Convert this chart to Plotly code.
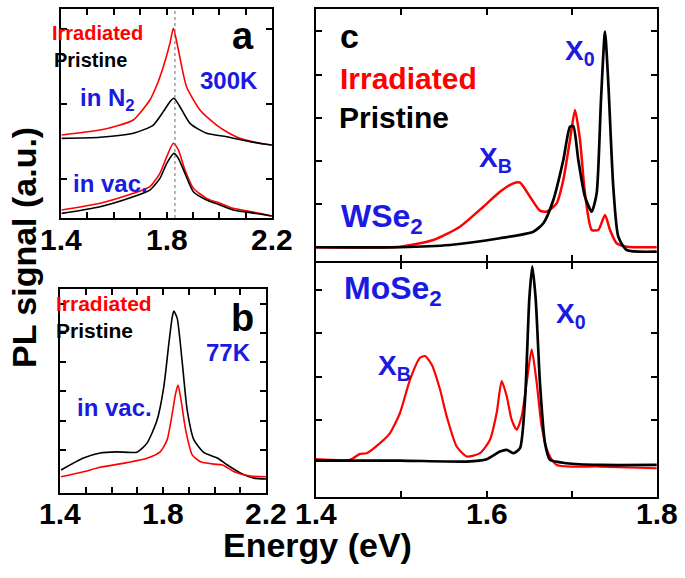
import plotly.graph_objects as go

W, H = 685, 578

# ---------------- data ----------------
# Panel a (300K): energy (eV) and PL signal (a.u., offset)
a_n2_red_x = [1.4025, 1.548, 1.611, 1.674, 1.737, 1.763, 1.788, 1.813, 1.826, 1.845, 1.876, 1.927, 1.990, 2.028, 2.079, 2.154, 2.199]
a_n2_red_y = [0.587, 0.653, 0.707, 0.787, 1.053, 1.25, 1.498, 1.809, 2.009, 1.72, 1.231, 0.92, 0.72, 0.631, 0.542, 0.476, 0.453]
a_n2_blk_x = [1.4025, 1.548, 1.674, 1.75, 1.788, 1.813, 1.828, 1.851, 1.889, 1.952, 2.028, 2.117, 2.199]
a_n2_blk_y = [0.542, 0.556, 0.609, 0.72, 0.898, 1.031, 1.076, 0.964, 0.742, 0.609, 0.564, 0.498, 0.453]
a_vac_red_x = [1.4025, 1.548, 1.674, 1.737, 1.775, 1.801, 1.826, 1.845, 1.870, 1.902, 1.952, 2.003, 2.053, 2.154, 2.199]
a_vac_red_y = [-0.413, -0.324, -0.191, -0.102, 0.076, 0.298, 0.476, 0.387, 0.12, -0.124, -0.258, -0.324, -0.391, -0.458, -0.493]
a_vac_blk_x = [1.4025, 1.548, 1.674, 1.737, 1.775, 1.801, 1.828, 1.845, 1.870, 1.902, 1.952, 2.003, 2.053, 2.154, 2.199]
a_vac_blk_y = [-0.458, -0.369, -0.236, -0.147, 0.009, 0.209, 0.342, 0.276, 0.076, -0.169, -0.28, -0.347, -0.413, -0.467, -0.493]
a_peak_energy = 1.832

# Panel b (77K, in vac.)
b_blk_x = [1.404, 1.491, 1.556, 1.621, 1.699, 1.738, 1.777, 1.803, 1.823, 1.836, 1.842, 1.855, 1.875, 1.894, 1.920, 1.959, 2.011, 2.050, 2.102, 2.154, 2.2]
b_blk_y = [0.31, 0.72, 0.89, 0.93, 0.92, 1.23, 2.02, 3.15, 4.66, 5.55, 5.75, 5.51, 3.97, 2.36, 1.34, 0.9, 0.72, 0.48, 0.2, 0.03, 0.0]
b_red_x = [1.404, 1.491, 1.556, 1.660, 1.738, 1.790, 1.816, 1.836, 1.849, 1.858, 1.868, 1.888, 1.914, 1.946, 1.998, 2.031, 2.076, 2.141, 2.2]
b_red_y = [0.08, 0.25, 0.40, 0.56, 0.71, 0.94, 1.34, 2.25, 2.93, 3.22, 2.82, 1.68, 0.82, 0.59, 0.51, 0.48, 0.25, 0.10, 0.08]

# Panel c, WSe2
w_blk_x = [1.4, 1.4985, 1.5572, 1.6158, 1.6549, 1.6667, 1.6784, 1.6901, 1.6979, 1.7018, 1.7077, 1.7155, 1.7234, 1.7292, 1.7343, 1.7390, 1.7429, 1.7487, 1.7546, 1.7644, 1.7997]
w_blk_y = [0.005, 0.005, 0.058, 0.213, 0.366, 0.56, 1.1, 2.025, 2.796, 2.81, 2.025, 1.176, 0.829, 1.25, 3.414, 4.995, 3.8, 1.407, 0.25, -0.058, -0.096]
w_red_x = [1.4, 1.4985, 1.5376, 1.5689, 1.5963, 1.6158, 1.6315, 1.6393, 1.6510, 1.6627, 1.6706, 1.6823, 1.6901, 1.6979, 1.7038, 1.7097, 1.7155, 1.7234, 1.7312, 1.7390, 1.7449, 1.7527, 1.7644, 1.7997]
w_red_y = [0.005, 0.019, 0.174, 0.481, 0.944, 1.292, 1.485, 1.5, 1.176, 0.852, 0.829, 1.022, 1.562, 2.488, 3.183, 2.488, 1.25, 0.405, 0.405, 0.752, 0.405, 0.097, 0.019, 0.005]

# Panel c, MoSe2
m_blk_x = [1.4, 1.4985, 1.5768, 1.6002, 1.6158, 1.6237, 1.6315, 1.6393, 1.6452, 1.6502, 1.6537, 1.6577, 1.6627, 1.6686, 1.6745, 1.6940, 1.7331, 1.7997]
m_blk_y = [0.054, 0.054, 0.031, 0.085, 0.264, 0.302, 0.225, 0.341, 1.465, 3.791, 4.55, 3.791, 1.853, 0.457, 0.07, -0.008, -0.047, -0.047]
m_red_x = [1.4, 1.4399, 1.4516, 1.4594, 1.4751, 1.4868, 1.4985, 1.5103, 1.5220, 1.5279, 1.5357, 1.5455, 1.5533, 1.5650, 1.5768, 1.5924, 1.6041, 1.6119, 1.6178, 1.6237, 1.6295, 1.6354, 1.6413, 1.6471, 1.6530, 1.6589, 1.6647, 1.6725, 1.6823, 1.7331, 1.7997]
m_red_y = [0.085, 0.07, 0.209, 0.225, 0.457, 0.69, 1.155, 1.93, 2.434, 2.473, 2.279, 1.698, 1.078, 0.38, 0.147, 0.225, 0.535, 1.155, 1.891, 1.543, 1.0, 0.767, 1.078, 1.853, 2.628, 1.853, 0.845, 0.225, -0.047, -0.085, -0.124]

# ticks and tick labels
ab_tickvals = [1.4, 1.5, 1.6, 1.7, 1.8, 1.9, 2.0, 2.1, 2.2]
ab_labels = ["1.4", "1.8", "2.2"]
c_tickvals = [1.4, 1.5, 1.6, 1.7, 1.8]
c_labels = ["1.4", "1.6", "1.8"]

# ---------------- figure ----------------
RED = "#ff0000"
BLK = "#000000"
BLUE = "#1a1ae0"
FONT = "Liberation Sans, Arial, sans-serif"


def px(x):
    return x / W


def py(y):
    return 1 - y / H


fig = go.Figure()


def line(x, y, color, width, ax):
    fig.add_trace(go.Scatter(x=x, y=y, mode="lines",
                             line=dict(color=color, width=width, shape="spline", smoothing=0.6),
                             xaxis="x" + ax, yaxis="y" + ax, showlegend=False, hoverinfo="skip"))

line(a_n2_red_x, a_n2_red_y, RED, 1.6, "")
line(a_n2_blk_x, a_n2_blk_y, BLK, 1.6, "")
line(a_vac_red_x, a_vac_red_y, RED, 1.6, "")
line(a_vac_blk_x, a_vac_blk_y, BLK, 1.6, "")
line(b_blk_x, b_blk_y, BLK, 1.6, "2")
line(b_red_x, b_red_y, RED, 1.6, "2")
line(w_red_x, w_red_y, RED, 2.5, "3")
line(w_blk_x, w_blk_y, BLK, 2.7, "3")
line(m_red_x, m_red_y, RED, 2.2, "4")
line(m_blk_x, m_blk_y, BLK, 2.7, "4")


def xax(dom, anchor, vals, rng):
    return dict(domain=dom, anchor=anchor, range=rng, tickvals=vals,
                showticklabels=False, ticks="inside", ticklen=6, tickwidth=2, tickcolor="black",
                showline=True, linewidth=2, linecolor="black", mirror="ticks", showgrid=False,
                zeroline=False, fixedrange=True)


def yax(dom, anchor, vals, rng):
    return dict(domain=dom, anchor=anchor, range=rng, tickvals=vals, showticklabels=False,
                ticks="inside", ticklen=6, tickwidth=2, tickcolor="black",
                showline=True, linewidth=2, linecolor="black", mirror="ticks", showgrid=False,
                zeroline=False, fixedrange=True)

fig.update_layout(
    width=W, height=H, margin=dict(l=0, r=0, t=0, b=0),
    paper_bgcolor="white", plot_bgcolor="white",
    xaxis=xax([px(61), px(272)], "y", ab_tickvals, [1.4, 2.2]),
    yaxis=yax([py(218), py(9)], "x", [0, 1, 2], [-0.52, 2.267]),
    xaxis2=xax([px(60), px(266)], "y2", ab_tickvals, [1.4, 2.2]),
    yaxis2=yax([py(493), py(289)], "x2", [1, 2, 3, 4, 5, 6], [-0.479, 6.507]),
    xaxis3=xax([px(316), px(657)], "y3", c_tickvals, [1.4, 1.8]),
    yaxis3=yax([py(261), py(9)], "x3", [1, 2, 3, 4, 5], [-0.313, 5.52]),
    xaxis4=xax([px(316), px(657)], "y4", c_tickvals, [1.4, 1.8]),
    yaxis4=yax([py(497), py(263)], "x4", [1, 2, 3, 4], [-0.79, 4.628]),
)

fig.add_shape(type="line", xref="x", yref="y domain", x0=a_peak_energy, x1=a_peak_energy, y0=0, y1=1,
              line=dict(color="#666666", width=1, dash="dot"))


def ann(text, x, y, size, color, angle=0, xref="paper"):
    fig.add_annotation(text="<b>" + text + "</b>", x=(x if xref != "paper" else px(x)), y=py(y),
                       xref=xref, yref="paper", showarrow=False,
                       xanchor="center", yanchor="middle", align="center", textangle=angle,
                       font=dict(family=FONT, size=size, color=color))

# tick labels (placed at tick energies on each x axis)
for v in ab_labels:
    ann(v, float(v), 240, 30, BLK, xref="x")
    ann(v, float(v), 513, 30, BLK, xref="x2")
for v in c_labels:
    ann(v, float(v), 513, 30, BLK, xref="x4")

# panel a
ann("Irradiated", 98, 33, 20, RED)
ann("Pristine", 90, 60, 20, BLK)
ann("a", 243, 36, 38, BLK)
ann("300K", 229, 80, 24, BLUE)
ann("in N<sub>2</sub>", 107, 100, 24, BLUE)
ann("in vac.", 110, 183, 24, BLUE)
# panel b
ann("Irradiated", 104, 303, 21, RED)
ann("Pristine", 94, 330, 21, BLK)
ann("b", 243, 318, 38, BLK)
ann("77K", 228, 352, 24, BLUE)
ann("in vac.", 115, 407, 24, BLUE)
# panel c
ann("c", 349, 36, 34, BLK)
ann("Irradiated", 408, 78, 30, RED)
ann("Pristine", 394, 117, 30, BLK)
ann("X<sub>0</sub>", 580, 52, 28, BLUE)
ann("X<sub>B</sub>", 495, 159, 28, BLUE)
ann("WSe<sub>2</sub>", 382, 219, 32, BLUE)
ann("MoSe<sub>2</sub>", 393, 290, 32, BLUE)
ann("X<sub>0</sub>", 571, 315, 28, BLUE)
ann("X<sub>B</sub>", 394, 367, 28, BLUE)
# axis titles
ann("Energy (eV)", 317, 545, 34, BLK)
ann("PL signal (a.u.)", 24, 248, 34, BLK, angle=-90)

fig.write_html("out.html", config={"displayModeBar": False},
               post_script="document.body.style.margin='0px';document.body.style.overflow='hidden';")
